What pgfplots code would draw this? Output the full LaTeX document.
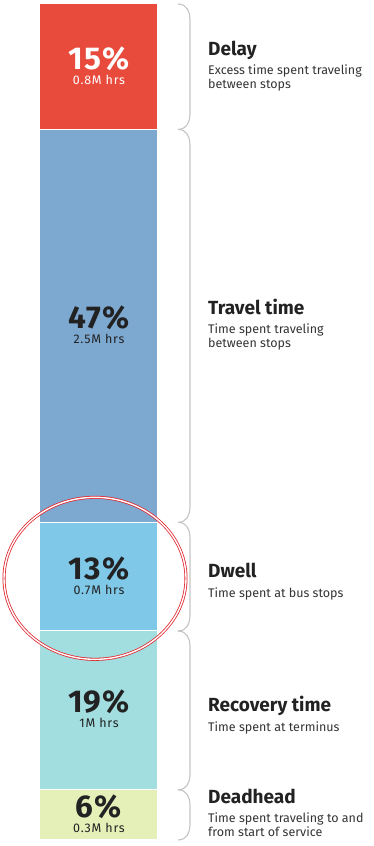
\documentclass[border=0pt]{standalone}
\usepackage{pgfplots}
\pgfplotsset{compat=1.18}
\usepackage{fontspec}
\setmainfont{Fira Sans}
\usetikzlibrary{calc}

\definecolor{cDelay}{HTML}{E84B3C}
\definecolor{cTravel}{HTML}{7DA9D1}
\definecolor{cDwell}{HTML}{80C8E8}
\definecolor{cRecovery}{HTML}{A2DDE0}
\definecolor{cDeadhead}{HTML}{E5EFB8}
\definecolor{txt}{HTML}{222222}
\definecolor{desc}{HTML}{333333}
\definecolor{bracecol}{HTML}{C4C4C4}
\definecolor{ring}{HTML}{E0282E}

% bracket joining the right edge of the bar between two stack levels
\newcommand{\segbrace}[2]{%
  \draw[bracecol, line width=1.1pt]
    ($(#1)+(20pt,0pt)$) .. controls +(9pt,0pt) and +(0pt,7pt) ..
    ($(#1)+(32pt,-15pt)$) --
    ($(#2)+(32pt,15pt)$) .. controls +(0pt,-7pt) and +(9pt,0pt) ..
    ($(#2)+(20pt,0pt)$);}

% value inside the bar: percentage over hours, one block (base = last line)
\newcommand{\seglabel}[4]{%
  \node[anchor=base, inner sep=0pt, text=#4, align=center,
        font=\fontsize{12.5}{15}\selectfont\addfontfeature{LetterSpace=6}]
    at ([yshift=-17.5pt]#1)
    {{\fontsize{31.5}{15}\selectfont\bfseries\addfontfeature{LetterSpace=4}#2\%}\\#3};}

% category name with a two-line description
\newcommand{\sidelabelii}[4]{%
  \node[anchor=base west, inner sep=0pt, text=txt, font=\fontsize{19}{19}\selectfont\bfseries]
    at ([xshift=109pt,yshift=11pt]#1) {#2};
  \node[anchor=base west, inner sep=0pt, text=desc, font=\fontsize{12.5}{12.5}\selectfont]
    at ([xshift=109pt,yshift=-8pt]#1) {#3};
  \node[anchor=base west, inner sep=0pt, text=desc, font=\fontsize{12.5}{12.5}\selectfont]
    at ([xshift=109pt,yshift=-22pt]#1) {#4};}

% category name with a one-line description
\newcommand{\sidelabeli}[3]{%
  \node[anchor=base west, inner sep=0pt, text=txt, font=\fontsize{19}{19}\selectfont\bfseries]
    at ([xshift=109pt,yshift=-1pt]#1) {#2};
  \node[anchor=base west, inner sep=0pt, text=desc, font=\fontsize{12.5}{12.5}\selectfont]
    at ([xshift=109pt,yshift=-21pt]#1) {#3};}

\begin{document}
\begin{tikzpicture}[x=1pt,y=1pt]
\path[use as bounding box] (0,0) rectangle (374,846);
\begin{axis}[
  at={(40pt,6pt)}, anchor=south west,
  width=118pt, height=836pt, scale only axis,
  xmin=-0.5, xmax=0.5, ymin=0, ymax=100,
  hide axis, clip=false,
  ybar stacked, bar width=118pt,
]
% share of service hours, stacked from the bottom
\addplot[fill=cDeadhead, draw=white, line width=1pt] coordinates {(0,6)};
\addplot[fill=cRecovery, draw=white, line width=1pt] coordinates {(0,19)};
\addplot[fill=cDwell,    draw=white, line width=1pt] coordinates {(0,13)};
\addplot[fill=cTravel,   draw=white, line width=1pt] coordinates {(0,47)};
\addplot[fill=cDelay,    draw=white, line width=1pt] coordinates {(0,15)};

% segment centres and stack boundaries on the right edge of the bar
\coordinate (cDel) at (axis cs:0,92.5);
\coordinate (cTra) at (axis cs:0,61.5);
\coordinate (cDwe) at (axis cs:0,31.5);
\coordinate (cRec) at (axis cs:0,15.5);
\coordinate (cDea) at (axis cs:0,3);
\coordinate (e100) at (axis cs:0.5,100);
\coordinate (e85) at (axis cs:0.5,85);
\coordinate (e38) at (axis cs:0.5,38);
\coordinate (e25) at (axis cs:0.5,25);
\coordinate (e6) at (axis cs:0.5,6);
\coordinate (e0) at (axis cs:0.5,0);
\coordinate (ring) at (axis cs:0,31.3);
\end{axis}

\seglabel{cDel}{15}{0.8M hrs}{white}
\seglabel{cTra}{47}{2.5M hrs}{txt}
\seglabel{cDwe}{13}{0.7M hrs}{txt}
\seglabel{cRec}{19}{1M hrs}{txt}
\seglabel{cDea}{6}{0.3M hrs}{txt}

\segbrace{e100}{e85}
\segbrace{e85}{e38}
\segbrace{e38}{e25}
\segbrace{e25}{e6}
\segbrace{e6}{e0}

\sidelabelii{cDel}{Delay}{Excess time spent traveling}{between stops}
\sidelabelii{cTra}{Travel time}{Time spent traveling}{between stops}
\sidelabeli{cDwe}{Dwell}{Time spent at bus stops}
\sidelabeli{cRec}{Recovery time}{Time spent at terminus}
\sidelabelii{cDea}{Deadhead}{Time spent traveling to and}{from start of service}

% highlight ring around the dwell segment
\draw[ring, line width=0.8pt, double=white, double distance=1.4pt]
  ([xshift=-4pt]ring) ellipse [x radius=91pt, y radius=81pt];
\end{tikzpicture}
\end{document}
